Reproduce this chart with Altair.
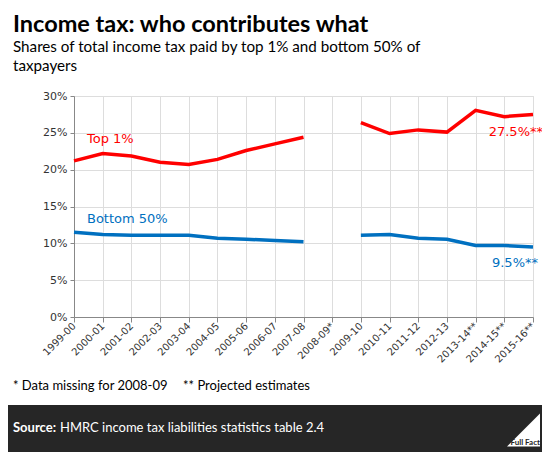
import altair as alt
import pandas as pd

years = ["1999-00", "2000-01", "2001-02", "2002-03", "2003-04", "2004-05", "2005-06",
         "2006-07", "2007-08", "2008-09*", "2009-10", "2010-11", "2011-12", "2012-13",
         "2013-14**", "2014-15**", "2015-16**"]
top1 = [21.2, 22.2, 21.85, 21.0, 20.7, 21.4, 22.6, 23.5, 24.4, None, 26.4, 24.9, 25.4, 25.1, 28.05, 27.2, 27.5]
bottom50 = [11.5, 11.2, 11.1, 11.1, 11.1, 10.7, 10.55, 10.4, 10.2, None, 11.1, 11.2, 10.7, 10.55, 9.7, 9.7, 9.5]
series_names = ["Top 1%", "Bottom 50%"]
series_colors = ["#ff0000", "#0070c0"]

rows = []
for name, vals in zip(series_names, [top1, bottom50]):
    seg = 0
    for y, v in zip(years, vals):
        if v is None:
            seg += 1
            continue
        rows.append({"year": y, "value": v / 100, "series": name, "seg": f"{name}-{seg}"})
df = pd.DataFrame(rows)

W, H = 459, 221
FONT_AX = "DejaVu Sans"
FONT_T = "Lato"

x = alt.X("year:N", sort=years, scale=alt.Scale(domain=years, padding=0),
          axis=alt.Axis(title=None, labelAngle=-45, labelAlign="right", labelBaseline="middle",
                        labelFont=FONT_AX, labelFontSize=10, labelColor="#333333",
                        domainColor="#888888", tickColor="#888888", tickSize=5,
                        gridColor="#dddddd", grid=True, labelPadding=2))
y = alt.Y("value:Q", scale=alt.Scale(domain=[0, 0.3]),
          axis=alt.Axis(title=None, format=".0%", values=[0, .05, .1, .15, .2, .25, .3],
                        labelFont=FONT_AX, labelFontSize=11, labelColor="#333333",
                        domainColor="#888888", tickColor="#888888", tickSize=4,
                        gridColor="#dddddd", labelPadding=3))

lines = alt.Chart(df).mark_line(strokeWidth=3.5).encode(
    x=x, y=y,
    color=alt.Color("series:N", scale=alt.Scale(domain=series_names, range=series_colors), legend=None),
    detail="seg:N",
)

def txt(text, xv, yv, size=13, color="#000000", font=FONT_AX, weight="normal", align="left", baseline="middle"):
    return alt.Chart(pd.DataFrame({"t": [text]})).mark_text(
        align=align, baseline=baseline, fontSize=size, font=font, fontWeight=weight, color=color
    ).encode(text="t:N", x=alt.value(xv), y=alt.value(yv))

band = alt.Chart(pd.DataFrame({"a": [0]})).mark_rect(color="#262626").encode(
    x=alt.value(-66), x2=alt.value(468), y=alt.value(309), y2=alt.value(356))

logo = alt.Chart(pd.DataFrame({"a": [0]})).mark_point(
    shape="M -1 1 L 1 -1 L 1 1 Z", filled=True, color="white", opacity=1, size=1089, strokeWidth=0
).encode(x=alt.value(449.5), y=alt.value(334))

layers = [
    lines,
    txt("Top 1%", 13, 43, size=13, color="#ff0000"),
    txt("Bottom 50%", 13, 123, size=13, color="#0070c0"),
    txt("27.5%**", 469, 36, size=13, color="#ff0000", align="right"),
    txt("9.5%**", 464, 167, size=13, color="#0070c0", align="right"),
    txt("Income tax: who contributes what", -61, -64.5, size=23.5, font=FONT_T, weight="bold", baseline="alphabetic"),
    txt("Shares of total income tax paid by top 1% and bottom 50% of", -61, -44, size=15.2, font=FONT_T, baseline="alphabetic"),
    txt("taxpayers", -61, -25, size=15.2, font=FONT_T, baseline="alphabetic"),
    txt("* Data missing for 2008-09", -61, 290, size=13, font=FONT_T),
    txt("** Projected estimates", 109, 290, size=13, font=FONT_T),
    band,
    txt("Source:", -61, 332, size=13, font=FONT_T, weight="bold", color="white"),
    txt("HMRC income tax liabilities statistics table 2.4", -14, 332, size=13, font=FONT_T, color="white"),
    logo,
    txt("Full Fact", 466, 347, size=8, font=FONT_T, weight="bold", color="#262626", align="right"),
]

chart = alt.layer(*layers).properties(
    width=W, height=H,
    autosize=alt.AutoSizeParams(type="none"),
    padding={"left": 66, "top": 88, "right": 9, "bottom": 135},
).configure_view(stroke=None).configure(background="white")

chart.save("out.html", embed_options={"renderer": "svg", "actions": False})
